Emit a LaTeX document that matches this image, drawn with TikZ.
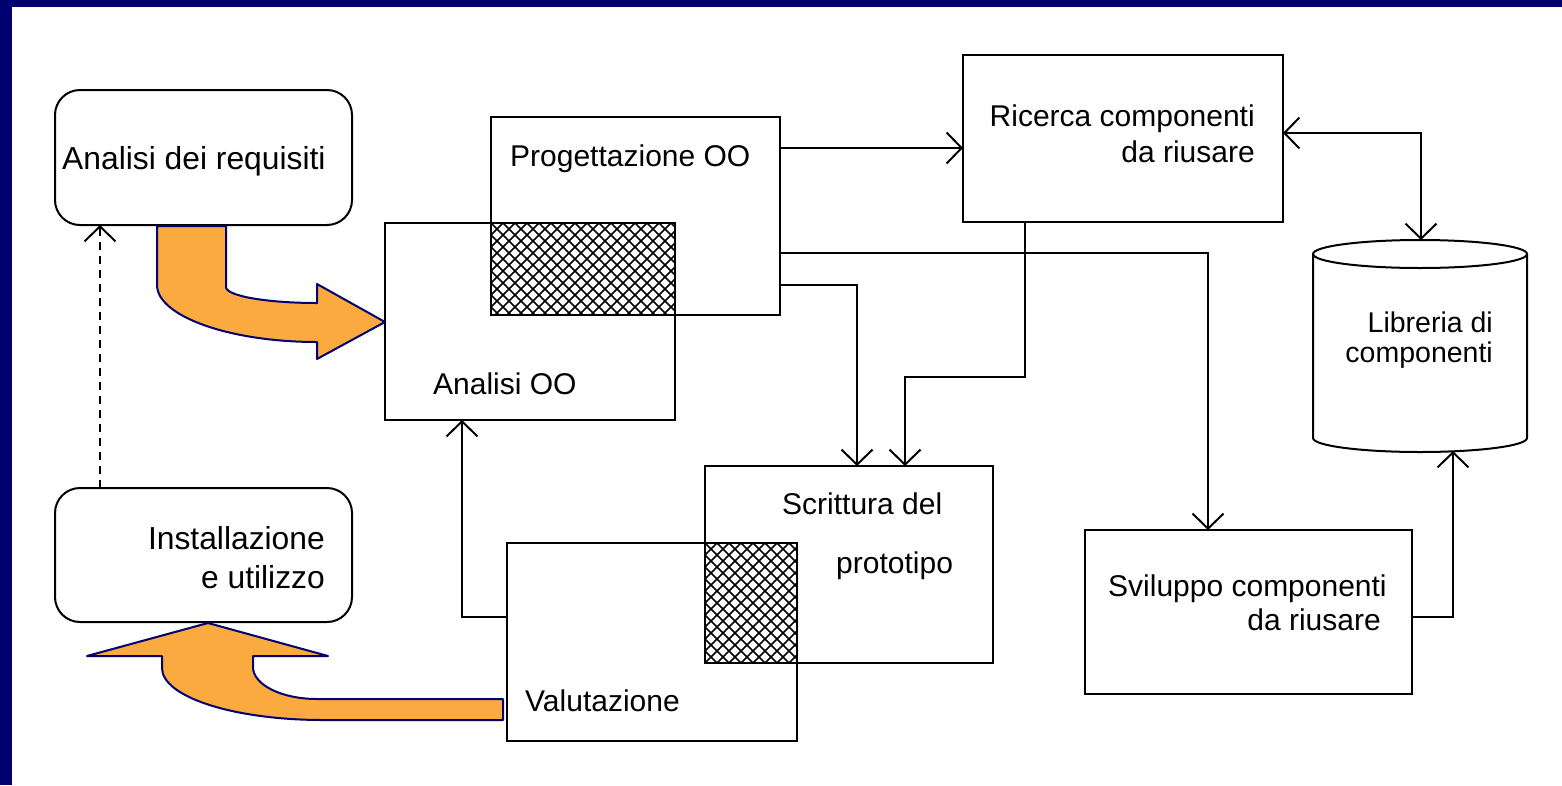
\documentclass[tikz,border=0pt]{standalone}
\usepackage{fontspec}
\setmainfont{Liberation Sans}
\usetikzlibrary{arrows.meta}
\definecolor{navy}{RGB}{0,0,112}
\definecolor{orng}{RGB}{251,170,64}
\newcommand\hatchrect[4]{%
  \begin{scope}
    \clip (#1,#2) rectangle (#3,#4);
    \foreach \k in {-300,-288,...,300} {
      \draw[hatch] ({#1+\k},#2) -- ++(300,300);
      \draw[hatch] ({#1+\k},#2) -- ++(-300,300);
    }
  \end{scope}}
\begin{document}
\begin{tikzpicture}[x=1pt,y=-1pt,
  box/.style={draw,line width=2pt,inner sep=0pt,outer sep=0pt,anchor=north west},
  rbox/.style={box,rounded corners=25pt},
  lbl/.style={inner sep=0pt,font=\fontsize{30}{36}\selectfont},
  blbl/.style={inner sep=0pt,font=\fontsize{31.8}{38}\selectfont},
  slbl/.style={inner sep=0pt,font=\fontsize{28.5}{32}\selectfont},
  conn/.style={line width=2pt,-{Straight Barb[length=15pt,width=31pt]}},
  bconn/.style={line width=2pt,{Straight Barb[length=15pt,width=31pt]}-{Straight Barb[length=15pt,width=31pt]}},
  bigarrow/.style={fill=orng,draw=navy,line width=2pt,line join=round},
  hatch/.style={line width=1.7pt}]
\useasboundingbox (0,0) rectangle (1562,785);
\fill[white] (0,0) rectangle (1562,785);
\fill[navy] (0,0) rectangle (1562,7);
\fill[navy] (0,0) rectangle (12,785);

% hatched overlaps
\hatchrect{491}{223}{675}{315}
\hatchrect{705}{543}{797}{663}

% boxes
\node[rbox,minimum width=297pt,minimum height=135pt] (req) at (55,90) {};
\node[rbox,minimum width=297pt,minimum height=134pt] (inst) at (55,488) {};
\node[box,minimum width=290pt,minimum height=197pt] (aoo) at (385,223) {};
\node[box,minimum width=289pt,minimum height=198pt] (prog) at (491,117) {};
\node[box,minimum width=288pt,minimum height=197pt] (scr) at (705,466) {};
\node[box,minimum width=290pt,minimum height=198pt] (val) at (507,543) {};
\node[box,minimum width=320pt,minimum height=167pt] (ric) at (963,55) {};
\node[box,minimum width=327pt,minimum height=164pt] (svi) at (1085,530) {};

% cylinder
\draw[line width=2pt] (1313,254) -- (1313,438)
  arc[start angle=180,end angle=360,x radius=107pt,y radius=14pt] -- (1527,254);
\draw[line width=2pt] (1420,254) ellipse [x radius=107pt,y radius=14pt];
\coordinate (libtop) at (1421,240);
\coordinate (libbot) at (1453,451);

% labels
\node[blbl,anchor=base west] (treq) at (62,169) {Analisi dei requisiti};
\node[lbl,anchor=base west] (tprog) at (510,166) {Progettazione OO};
\node[lbl,anchor=base west] (taoo) at (433,394) {Analisi OO};
\node[lbl,anchor=base east] (tric1) at (1255,126) {Ricerca componenti};
\node[lbl,anchor=base east] (tric2) at (1255,162) {da riusare};
\node[blbl,anchor=base east] (tinst1) at (325,549) {Installazione};
\node[blbl,anchor=base east] (tinst2) at (325,588) {e utilizzo};
\node[lbl,anchor=base west] (tscr1) at (782,514) {Scrittura del};
\node[lbl,anchor=base west] (tscr2) at (836,573) {prototipo};
\node[lbl,anchor=base west] (tval) at (525,711) {Valutazione};
\node[lbl,anchor=base west] (tsvi1) at (1108,596) {Sviluppo componenti};
\node[lbl,anchor=base east] (tsvi2) at (1381,630) {da riusare};
\node[slbl,anchor=base east] (tlib1) at (1493,332) {Libreria di};
\node[slbl,anchor=base east] (tlib2) at (1493,362) {componenti};

% connectors
\draw[conn] (prog.east |- 0,148) -- (ric.west |- 0,148);
\draw[bconn] (ric.east |- 0,133) -| (libtop);
\draw[conn] (prog.east |- 0,253) -| (svi.north -| 1208,0);
\draw[conn] (prog.east |- 0,285) -| (scr.north -| 857,0);
\coordinate (rbend) at (1025,377);
\draw[conn] (ric.south -| rbend) -- (rbend) -| (scr.north -| 905,0);
\draw[conn] (val.west |- 0,617) -| (aoo.south -| 462,0);
\draw[conn] (svi.east |- 0,617) -| (libbot);
\draw[conn,dash pattern=on 8pt off 6pt] (inst.north -| 100,0) -- (req.south -| 100,0);

% big orange arrows
\draw[bigarrow] (157,226) -- (226,226) -- (226,287)
  .. controls (226,296) and (267,303) .. (317,303) -- (317,284) -- (385,322)
  -- (317,359) -- (317,342) .. controls (229,342) and (157,316) .. (157,285) -- cycle;
\draw[bigarrow] (503,699) -- (503,720) -- (323,720)
  .. controls (234,720) and (162,697) .. (162,668) -- (162,656) -- (87,656)
  -- (208,623) -- (328,656) -- (253,656) -- (253,667)
  .. controls (253,685) and (282,699) .. (317,699) -- cycle;
\end{tikzpicture}
\end{document}
